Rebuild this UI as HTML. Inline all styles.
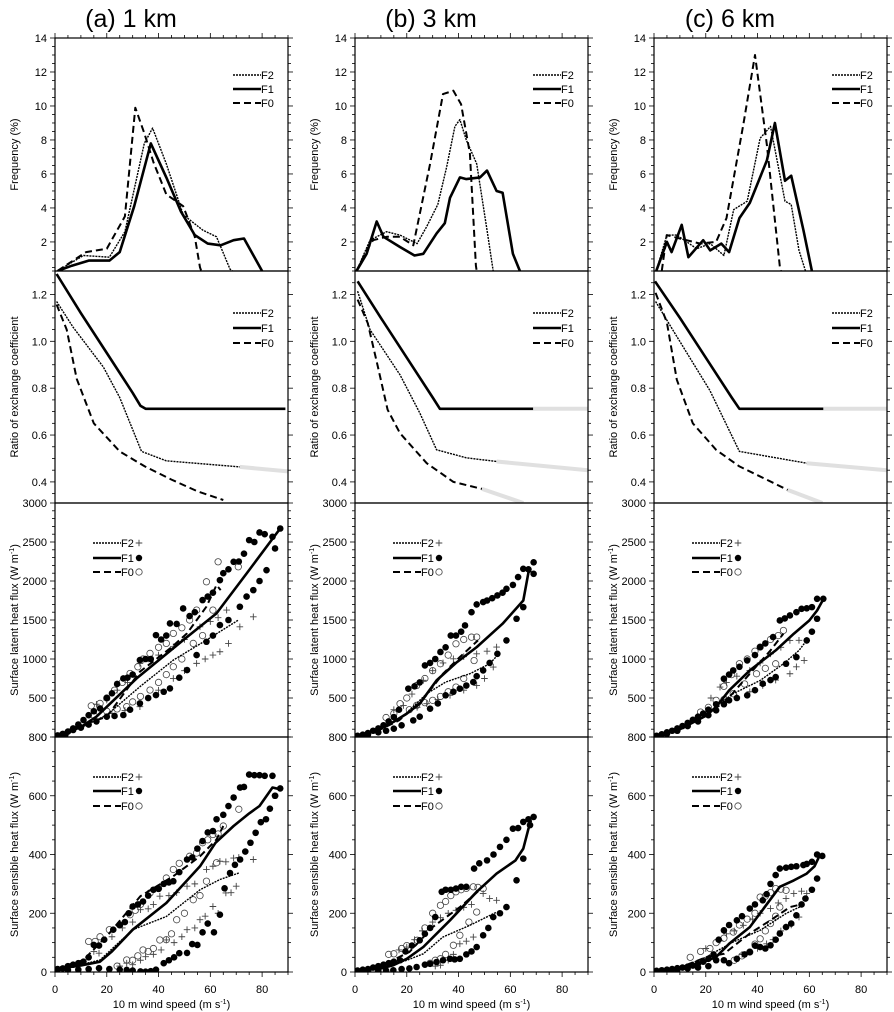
<!DOCTYPE html>
<html><head><meta charset="utf-8"><style>
body{margin:0;background:#fff;}
svg{display:block;font-family:"Liberation Sans",sans-serif;}
</style></head><body>
<svg id="fig" width="894" height="1012" viewBox="0 0 894 1012" xmlns="http://www.w3.org/2000/svg"></svg>
<script>
// ---------- data ----------
const colTitles = ["(a) 1 km","(b) 3 km","(c) 6 km"];
const freqTicks = [2,4,6,8,10,12,14];
const ratioTicks = [0.4,0.6,0.8,1.0,1.2];
const latTicks = [500,1000,1500,2000,2500,3000];
const senTicks = [0,200,400,600,800];
const xTicks = [0,20,40,60,80];

const freqA_F1=[[1.2,.3],[6.5,.6],[13,.9],[21,.9],[25,1.4],[30.6,4.1],[37,7.8],[43,5.8],[48.6,3.8],[54,2.4],[59,1.9],[64,1.8],[69,2.1],[73,2.2],[80,.29]];
const freqA_F2=[[1,.3],[11,1.2],[21,1.1],[27,2.6],[34.5,7.8],[37.7,8.7],[43,6.6],[49.5,3.6],[57,2.7],[62.4,2.3],[67.6,.4],[68.5,.29]];
const freqA_F0=[[1,.3],[12,1.4],[20,1.6],[27,3.5],[31,9.9],[34.5,8.4],[38,6.7],[43,4.8],[49.5,4.1],[54,2.3],[56,.5],[56.5,.29]];
const freqB_F1=[[0.6,.3],[4.5,1.3],[8.4,3.2],[11,2.3],[17.4,1.7],[23,1.2],[26.4,1.3],[31.5,2.5],[34.7,3.1],[36.7,4.6],[40.5,5.8],[43,5.7],[48.3,5.8],[51,6.2],[54.7,5],[57,4.9],[61,1.3],[63.7,.29]];
const freqB_F2=[[0.6,.3],[5.8,2.1],[12.2,2.6],[17.4,2.4],[24,1.9],[27.7,2.9],[32,4.2],[35.4,6.4],[38.6,8.8],[40.5,9.2],[43,8],[47,6.6],[51,2.7],[53.4,.29]];
const freqB_F0=[[0.6,.3],[4.5,1.5],[7,2.1],[12.2,2.3],[17.4,2.3],[22.5,1.8],[29,6.6],[34,10.7],[38,10.9],[41,10.1],[44.4,7.2],[46.7,.6],[47,.29]];
const freqC_F1=[[0.9,.3],[5,2],[6.8,1.4],[10.7,3],[13.3,1.1],[19,2.1],[21.7,1.5],[26,1.9],[29,1.4],[33,3.4],[37,4.3],[43.6,6.8],[46.7,9],[50.6,5.6],[53,5.9],[57.7,2.7],[61,.29]];
const freqC_F2=[[0.9,.3],[5,2.4],[8.8,2.4],[16.5,1.6],[21.7,1.9],[27,1.2],[30.8,3.9],[36,4.4],[41,8.1],[45,8.8],[50.6,4.4],[53,4.2],[56,1.5],[58.5,.29]];
const freqC_F0=[[3,.3],[4.9,2.4],[10,2.2],[17.8,1.9],[24,2],[28,3.4],[34.5,8.9],[39,13],[43.6,7.7],[48.7,.4],[49,.29]];

const ratA_F1=[[0.6,1.287],[10,1.12],[20,0.95],[30,0.78],[33,0.725],[35,0.712],[89,0.712]];
const ratA_F2=[[0.6,1.17],[7,1.06],[18.7,0.89],[25,0.76],[33.4,0.53],[43,0.49],[71.4,0.464]];
const ratA_F0=[[0.6,1.157],[4.5,1.05],[8.4,0.84],[15,0.65],[25,0.53],[34.7,0.466],[45,0.41],[55,0.36],[65,0.323]];
const ratA_F2gray=[[71.4,0.464],[90,0.445]];
const ratB_F1=[[1,1.256],[10,1.1],[20,0.93],[30,0.76],[32.8,0.712],[68.8,0.712]];
const ratB_F2=[[1,1.214],[5.8,1.05],[17.4,0.857],[25,0.695],[31.5,0.537],[43,0.503],[54.7,0.487]];
const ratB_F0=[[1,1.178],[4.9,1.078],[8.8,0.893],[12.6,0.708],[17.4,0.608],[27.7,0.48],[38,0.40],[49,0.37]];
const ratB_F1gray=[[68.8,0.712],[90,0.712]];
const ratB_F2gray=[[54.7,0.487],[90,0.45]];
const ratB_F0gray=[[49,0.37],[65,0.31]];
const ratC_F1=[[0.4,1.256],[10,1.1],[20,0.93],[30,0.76],[33,0.712],[65.4,0.712]];
const ratC_F2=[[0.6,1.17],[7.2,1.05],[21.6,0.79],[33,0.53],[59,0.48]];
const ratC_F0=[[0.6,1.207],[5,1.08],[8.8,0.836],[15,0.65],[24,0.537],[33,0.466],[43.5,0.41],[51.6,0.366]];
const ratC_F1gray=[[65.4,0.712],[90,0.712]];
const ratC_F2gray=[[59,0.48],[90,0.45]];
const ratC_F0gray=[[51.6,0.366],[65,0.31]];

const latA_F1=[[0,20],[5,60],[10,130],[16,260],[31.5,751],[49.5,1242],[62.4,1584],[74,2096],[87,2673]];
const latA_F1up=[[1,20],[3,40],[5,70],[7,110],[9,160],[11,218],[13,280],[15,330],[17.4,367],[20,500],[22,560],[24,680],[26.4,751],[28,760],[30,800],[32.8,986],[35,1000],[37,1000],[39,1306],[41,1250],[43,1300],[44.4,1456],[47,1450],[49.5,1648],[52,1550],[54,1600],[57,1755],[59,1800],[61,1850],[63.7,2011],[65,2100],[67,2150],[69,2246],[71,2250],[73,2350],[75,2524],[77,2500],[79,2622],[81,2600],[84,2566],[87,2673]];
const latA_F1lo=[[1,10],[4,30],[7,90],[10,120],[13,160],[16,200],[20,260],[23,270],[26.4,282],[29,350],[32.8,431],[36,500],[39,538],[42,580],[44.4,623],[48,760],[51,858],[54.7,1050],[58.5,1221],[61,1300],[63.7,1435],[67,1500],[71.4,1670],[74,1800],[76.6,1883],[79,2000],[81.7,2139],[85,2417]];
const latA_F0=[[0,20],[10,150],[20,260],[32.8,837],[45,1150],[51,1328],[58.5,1670],[62.4,1947],[64,1883]];
const latA_F0up=[[14,400],[17.4,431],[20,500],[23,600],[26,700],[29,815],[32,900],[34,1000],[36.7,1072],[40,1150],[43,1200],[45.7,1328],[49,1400],[52,1500],[54.7,1627],[58.5,1990],[63,2246],[70.8,2182]];
const latA_F0lo=[[15,280],[20,330],[24,360],[27.7,389],[30,450],[33,520],[36.7,602],[40,700],[43,800],[45.7,901],[49,1000],[53.4,1200],[57,1300],[61,1627]];
const latA_F2=[[0,20],[10,120],[20,282],[32.8,645],[45.7,986],[58.5,1242],[70.8,1499]];
const latA_F2up=[[16,420],[20,474],[24,600],[28,700],[32.8,944],[36,1000],[40,1050],[45.7,1157],[50,1250],[56,1413],[60,1480],[63,1530],[66.3,1627],[71.4,1670],[76.6,1541]];
const latA_F2lo=[[22,300],[27,340],[32.8,389],[36,500],[40,600],[45.7,751],[50,850],[54.7,944],[58,1000],[61,1050],[63.7,1093],[67,1200],[71.4,1413]];

const latB_F1=[[0,10],[5,50],[10,110],[14.8,192],[20,300],[25,427],[31.5,726],[39,950],[47,1153],[57,1452],[65,1750],[67,2113],[68,2135]];
const latB_F1up=[[1,15],[3,30],[5,50],[7,80],[9,110],[11,150],[13,200],[15,256],[17,350],[20.6,620],[23,650],[25,700],[27,918],[29,950],[31,1000],[33,1090],[35,1150],[37,1300],[39,1300],[41,1350],[42.5,1430],[45,1600],[47,1700],[49.5,1730],[51,1750],[53,1780],[55,1815],[57,1850],[58.5,1900],[61,1950],[63,2050],[65,2156],[67,2150],[69,2240]];
const latB_F1lo=[[1,10],[5,30],[9,60],[12,80],[15,107],[18,150],[22.5,213],[25,260],[29,363],[32,430],[35,534],[38,580],[40.5,620],[43,660],[45.7,704],[47,780],[49.5,854],[52,950],[55,1067],[58.5,1238],[62.4,1516],[65,1665],[69,2092]];
const latB_F0=[[0,10],[10,100],[17,213],[26,470],[34,811],[40.5,1025],[47.5,1238]];
const latB_F0up=[[12,250],[15,300],[17.4,427],[20,500],[23.8,660],[27,750],[30,850],[33,939],[36,1050],[39,1195],[42,1250],[45,1280],[47,1281]];
const latB_F0lo=[[21,350],[23.8,405],[27,440],[30,470],[33,520],[36,580],[39,640],[42,750],[46,980]];
const latB_F2=[[0,10],[10,100],[18,250],[27.7,555],[35,704],[44.4,811],[52,939],[55,1046]];
const latB_F2up=[[15,350],[18.7,405],[22,550],[26.4,726],[30,850],[34,950],[38,1003],[42,1030],[47,1067],[51,1100],[54.7,1153]];
const latB_F2lo=[[24,380],[27.7,427],[32,480],[36.7,534],[42,600],[47,661],[50,750],[53.4,896]];

const latC_F1=[[0,10],[10,100],[20,270],[24,384],[29,598],[37,854],[47,1110],[54,1324],[60,1494],[63,1622],[65.5,1772]];
const latC_F1up=[[1,15],[3,35],[5,60],[7,80],[9,110],[11,140],[13,180],[15,220],[17,260],[19,300],[21,350],[24,420],[27,747],[29,800],[30.6,854],[33,900],[36,982],[39,1050],[41,1153],[43,1200],[46,1281],[48.6,1494],[50.5,1520],[52.5,1558],[55,1600],[57,1643],[59,1650],[61,1665],[63,1772],[65.4,1772]];
const latC_F1lo=[[1,10],[5,40],[9,80],[13,140],[17,200],[21,280],[24,342],[27,420],[29,470],[32,500],[36,534],[39,600],[42,683],[45,730],[47,768],[51,939],[55,1024],[59,1238],[61,1350],[63,1516]];
const latC_F0=[[0,10],[10,100],[20,280],[28,470],[37,811],[45,1110],[50,1324]];
const latC_F0up=[[18,320],[21,380],[24,470],[27,650],[30,800],[33,940],[36,1000],[39,1100],[41,1153],[45,1250],[48,1300],[50,1366]];
const latC_F0lo=[[27,480],[30.6,555],[35,680],[39.6,811],[43,880],[47,939]];
const latC_F2=[[0,10],[10,100],[20,280],[25,420],[30.6,555],[41,725],[50,939],[56,1110],[59,1238]];
const latC_F2up=[[22,500],[25.5,640],[28,700],[32,780],[37,854],[41,950],[45,1067],[49,1150],[52.5,1238],[56,1240],[59,1238]];
const latC_F2lo=[[28,480],[32,512],[37,580],[42,661],[47,730],[52.5,811],[55,900],[58,982]];

const senA_F1=[[0,10],[10,22],[17.4,35],[22,70],[30,144],[43,235],[56,360],[62,440],[69,497],[75,540],[79,565],[84,628],[87,622]];
const senA_F1up=[[1,10],[3,12],[5,20],[7,25],[9,30],[11,35],[13,50],[15,92],[17,90],[19,110],[22.5,144],[25,160],[27,170],[28.5,200],[30,223],[32,230],[34,240],[36,260],[38,280],[40,283],[42,300],[44,305],[45.7,309],[48,340],[51,383],[53,390],[55,420],[57,446],[59,475],[61,480],[62.4,520],[65,535],[67,565],[69,594],[71.5,628],[73,630],[75,672],[77,670],[79,670],[81,668],[84,668],[85,600],[87,625]];
const senA_F1lo=[[1,7],[5,7],[9,8],[13,10],[17,13],[21,10],[25,8],[27.7,7],[30,5],[33,2],[35,1],[37,3],[39,8],[42,30],[44,40],[46,50],[48,64],[51,65],[53,95],[55,92],[57,135],[59,165],[61.4,135],[63.7,195],[65.5,285],[67.6,337],[69.5,365],[71.5,383],[73.5,410],[75.5,440],[77.5,474],[79.5,510],[81.5,520],[83,556],[85,600]];
const senA_F0=[[0,10],[11,41],[21,132],[33,258],[45.7,326],[56,394],[62.4,451],[65,497]];
const senA_F0up=[[13,104],[15.5,104],[17.4,120],[21,144],[25,160],[29,195],[31,210],[33,230],[36.7,269],[40,285],[43,320],[45.7,349],[48,370],[52,394],[54.7,405],[57,440],[59,450],[61,468],[63,470],[65,497],[71,554]];
const senA_F0lo=[[24,20],[27.7,41],[30,40],[32,55],[34,75],[36,70],[38,80],[40.5,109],[43,110],[45,130],[47,178],[50,200],[53.4,246],[56,260],[58.5,309],[62.4,372]];
const senA_F2=[[0,10],[10,25],[17.4,41],[30,144],[43,189],[56,280],[63.7,315],[71,337]];
const senA_F2up=[[15,70],[17,64],[22,120],[26,150],[30,170],[33,212],[36,215],[38,230],[40.5,258],[44,260],[47,270],[51,292],[54,300],[58.5,349],[61,360],[63.7,377],[66,375],[69,388],[71,390],[76.6,383]];
const senA_F2lo=[[25,20],[27.7,30],[30,25],[33,40],[35,52],[38,60],[41,75],[43,109],[46,100],[49,120],[51,144],[54,150],[56,178],[58,190],[61,223],[63,200],[66,269],[68,270],[70,292]];

const senB_F1=[[0,3],[10,12],[14.8,23],[20,45],[26.4,85],[36.7,176],[47,273],[54.7,335],[62,380],[65,420],[67,488],[68,517]];
const senB_F1up=[[1,5],[3,8],[5,10],[7,15],[9,20],[11,25],[13,30],[15,35],[17.4,40],[19.5,70],[22,90],[25,108],[27,130],[29,150],[31,187],[33.5,273],[35,280],[37,280],[39,284],[41,290],[43,290],[46,352],[48,370],[51,380],[53.5,400],[56,426],[58.5,450],[61,488],[63,490],[65,511],[67,520],[69,528]];
const senB_F1lo=[[1,3],[5,3],[9,4],[12,5],[14.8,6],[18,10],[21,12],[23.8,17],[27,25],[29,28],[31.5,34],[34,40],[36.7,45],[38.5,43],[40.5,45],[43,60],[45,70],[47,85],[49.5,125],[51.5,150],[53.4,187],[56,200],[58.5,221],[62.4,312],[65,386],[67.6,500]];
const senB_F0=[[0,3],[10,20],[21,68],[30,153],[40.5,221],[48,278]];
const senB_F0up=[[13,60],[15,62],[18,80],[20,90],[24,108],[27,150],[30,200],[33,227],[35,240],[37,260],[39,273],[41,280],[43,285],[45.7,290],[47.5,288],[49.5,284]];
const senB_F0lo=[[29,30],[31,40],[33,45],[35,60],[38,91],[40.5,125],[44,170],[47,204]];
const senB_F2=[[0,3],[10,15],[20,40],[26.4,62],[34,119],[44.4,159],[54.7,204]];
const senB_F2up=[[17,75],[20,85],[23,110],[26,140],[30,170],[33,185],[36,200],[39,210],[42,220],[45,230],[49.5,267],[52,250],[54.7,244]];
const senB_F2lo=[[31,20],[33,23],[36,40],[38,60],[40.5,96],[43,105],[45.7,119]];

const senC_F1=[[0,3],[10,12],[18,30],[24,51],[29,96],[37,153],[48.6,290],[54,312],[59,335],[62,360],[64,397]];
const senC_F1up=[[1,4],[3,6],[5,8],[7,10],[9,13],[11,15],[13,18],[15,22],[17,28],[19,35],[21,45],[23,60],[25,110],[27,142],[29,160],[32,176],[34,190],[37,216],[39,230],[42,244],[43.5,265],[45,300],[47,330],[48.6,352],[51,355],[53,358],[55,360],[57.7,364],[59,368],[61,375],[63,400],[65,395]];
const senC_F1lo=[[1,3],[5,5],[9,8],[13,12],[17,15],[21,20],[24,40],[27,40],[29,30],[32,45],[35,60],[37,68],[39,90],[41,85],[43,80],[45,91],[47,110],[48.6,131],[51,153],[53,165],[55,193],[57,230],[58.5,250],[61,280],[63,318]];
const senC_F0=[[0,3],[10,15],[20,50],[27,62],[37,131],[45,176],[52.5,221],[58,233]];
const senC_F0up=[[14,50],[18,70],[21.6,80],[24,100],[27,115],[30.6,136],[33,160],[36,180],[39,200],[41,255],[43,258],[45,270],[47,284],[49,282],[51,278]];
const senC_F0lo=[[31,40],[34,55],[37,68],[39,95],[41,113],[43,140],[45,165],[47,190],[48.6,221]];
const senC_F2=[[0,3],[10,15],[20,50],[25,75],[30.6,102],[41,142],[51,199],[57.6,227]];
const senC_F2up=[[20,80],[25.5,108],[28,130],[31,140],[34.5,159],[38,180],[41,200],[45,216],[48,235],[51,250],[54,267],[57,275],[59,267]];
const senC_F2lo=[[34,60],[37,68],[40,80],[43.5,96],[46,110],[49,140],[51,153],[53,160],[56,187]];

// ---------- drawing ----------
const NS="http://www.w3.org/2000/svg";
const svg=document.getElementById('fig');
function mk(tag,attrs,parent){const e=document.createElementNS(NS,tag);for(const k in attrs)e.setAttribute(k,attrs[k]);(parent||svg).appendChild(e);return e;}
const lefts=[55,355,654];
const W=233;
const rows=[
 {top:38,bot:271,min:0.29,max:14,ticks:freqTicks,minor:0.5,title:"Frequency (%)",name:"frequency",fmt:v=>String(v)},
 {top:271,bot:503,min:0.31,max:1.30,ticks:ratioTicks,minor:0.05,title:"Ratio of exchange coefficient",name:"ratio",fmt:v=>v.toFixed(1)},
 {top:503,bot:737,min:0,max:3000,ticks:latTicks,minor:100,title:"Surface latent heat flux (W m",name:"latent",fmt:v=>String(v)},
 {top:737,bot:972,min:0,max:800,ticks:senTicks,minor:50,title:"Surface sensible heat flux (W m",name:"sensible",fmt:v=>String(v)}
];
const data=[
 [{F1:freqA_F1,F2:freqA_F2,F0:freqA_F0},{F1:ratA_F1,F2:ratA_F2,F0:ratA_F0,g:[ratA_F2gray]},
  {F1:latA_F1,F2:latA_F2,F0:latA_F0,F1u:latA_F1up,F1l:latA_F1lo,F0u:latA_F0up,F0l:latA_F0lo,F2u:latA_F2up,F2l:latA_F2lo},
  {F1:senA_F1,F2:senA_F2,F0:senA_F0,F1u:senA_F1up,F1l:senA_F1lo,F0u:senA_F0up,F0l:senA_F0lo,F2u:senA_F2up,F2l:senA_F2lo}],
 [{F1:freqB_F1,F2:freqB_F2,F0:freqB_F0},{F1:ratB_F1,F2:ratB_F2,F0:ratB_F0,g:[ratB_F1gray,ratB_F2gray,ratB_F0gray]},
  {F1:latB_F1,F2:latB_F2,F0:latB_F0,F1u:latB_F1up,F1l:latB_F1lo,F0u:latB_F0up,F0l:latB_F0lo,F2u:latB_F2up,F2l:latB_F2lo},
  {F1:senB_F1,F2:senB_F2,F0:senB_F0,F1u:senB_F1up,F1l:senB_F1lo,F0u:senB_F0up,F0l:senB_F0lo,F2u:senB_F2up,F2l:senB_F2lo}],
 [{F1:freqC_F1,F2:freqC_F2,F0:freqC_F0},{F1:ratC_F1,F2:ratC_F2,F0:ratC_F0,g:[ratC_F1gray,ratC_F2gray,ratC_F0gray]},
  {F1:latC_F1,F2:latC_F2,F0:latC_F0,F1u:latC_F1up,F1l:latC_F1lo,F0u:latC_F0up,F0l:latC_F0lo,F2u:latC_F2up,F2l:latC_F2lo},
  {F1:senC_F1,F2:senC_F2,F0:senC_F0,F1u:senC_F1up,F1l:senC_F1lo,F0u:senC_F0up,F0l:senC_F0lo,F2u:senC_F2up,F2l:senC_F2lo}]
];
const styles={F1:{w:2.6,d:"none"},F2:{w:1.4,d:"2 1"},F0:{w:2,d:"7 4"}};
const defs=mk('defs',{});
const letters=['a','b','c'];

lefts.forEach((L,ci)=>{
  const xs=v=>L+v*W/90;
  const t=mk('text',{x:L+76,y:27,'font-size':25,'text-anchor':'middle'});
  
  
  t.textContent=colTitles[ci];
  rows.forEach((r,ri)=>{
    const ys=v=>r.bot-(v-r.min)/(r.max-r.min)*(r.bot-r.top);
    const g=mk('g',{});
    
    
    const cid='clip'+ci+'_'+ri;
    const cp=mk('clipPath',{id:cid},defs);
    mk('rect',{x:L,y:r.top,width:W,height:r.bot-r.top},cp);
    // y ticks
    const start=Math.ceil(r.min/r.minor-1e-6);
    for(let k=start;k*r.minor<=r.max+1e-6;k++){
      const v=k*r.minor;const y=ys(v);
      const major=r.ticks.some(tv=>Math.abs(tv-v)<1e-6);
      const len=major?5:3;
      mk('line',{x1:L-len,x2:L,y1:y,y2:y,stroke:'#000','stroke-width':0.8},g);
      mk('line',{x1:L+W,x2:L+W+len,y1:y,y2:y,stroke:'#000','stroke-width':0.8},g);
    }
    r.ticks.forEach(tv=>{
      const tl=mk('text',{x:L-8,y:ys(tv)+4,'font-size':11,'text-anchor':'end'},g);
      
      
      tl.textContent=r.fmt(tv);
    });
    if(ri===2){const tl=mk('text',{x:L-8,y:r.bot+4,'font-size':11,'text-anchor':'end'},g);tl.textContent='0';}
    // y title
    const cy=(r.top+r.bot)/2;
    const yt=mk('text',{x:L-37,y:cy,'font-size':11,'text-anchor':'middle',transform:`rotate(-90 ${L-37} ${cy})`},g);
    
    
    yt.textContent=r.title;
    if(ri>=2){const sp=mk('tspan',{'font-size':7,dy:-4},yt);sp.textContent='-1';const sp2=mk('tspan',{dy:4},yt);sp2.textContent=')';}
    // x ticks on top of first and bottom of last
    if(ri===0||ri===3){
      for(let v=0;v<=90;v+=5){
        const len=(v%20===0)?5:3;const x=xs(v);
        if(ri===0)mk('line',{x1:x,x2:x,y1:r.top-len,y2:r.top,stroke:'#000','stroke-width':0.8},g);
        else mk('line',{x1:x,x2:x,y1:r.bot,y2:r.bot+len,stroke:'#000','stroke-width':0.8},g);
      }
    }
    if(ri===3){
      xTicks.forEach(v=>{const tl=mk('text',{x:xs(v),y:993,'font-size':11,'text-anchor':'middle'},g);
        tl.textContent=String(v);});
      const xt=mk('text',{x:L+W/2,y:1008,'font-size':11,'text-anchor':'middle'},g);
      
      xt.textContent='10 m wind speed (m s';
      const sp=mk('tspan',{'font-size':7,dy:-4},xt);sp.textContent='-1';const sp2=mk('tspan',{dy:4},xt);sp2.textContent=')';
    }
    const d=data[ci][ri];
    const pg=mk('g',{'clip-path':`url(#${cid})`},g);
    const path=(arr)=>arr.map((p,i)=>(i?'L':'M')+xs(p[0]).toFixed(1)+','+ys(p[1]).toFixed(1)).join('');
    if(d.g){d.g.forEach(a=>{const e=mk('path',{d:path(a),fill:'none',stroke:'#e0e0e0','stroke-width':4},pg);
      });}
    // markers
    const mark=(arr,type)=>arr.forEach(p=>{
      const x=xs(p[0]),y=ys(p[1]);let e;
      if(type==='F1')e=mk('circle',{cx:x,cy:y,r:3.3,fill:'#000'},pg);
      else if(type==='F0')e=mk('circle',{cx:x,cy:y,r:3.2,fill:'none',stroke:'#444','stroke-width':0.8},pg);
      else e=mk('path',{d:`M${x-3.3},${y}H${x+3.3}M${x},${y-3.3}V${y+3.3}`,stroke:'#444','stroke-width':0.9},pg);
      
      
    });
    if(d.F1u){mark(d.F2u,'F2');mark(d.F2l,'F2');mark(d.F0u,'F0');mark(d.F0l,'F0');mark(d.F1u,'F1');mark(d.F1l,'F1');}
    ['F0','F2','F1'].forEach(s=>{
      const e=mk('path',{d:path(d[s]),fill:'none',stroke:'#000','stroke-width':styles[s].w,'stroke-dasharray':styles[s].d,'stroke-linejoin':'round'},pg);
      
      
    });
    // frame
    const fr=mk('rect',{x:L,y:r.top,width:W,height:r.bot-r.top,fill:'none',stroke:'#000','stroke-width':1.2},g);
    
    // legend
    const lg=mk('g',{},g);
    
    
    let lx0,lx1,ly;
    if(ri<2){lx0=L+178;lx1=L+206;ly=ri===0?[75,89,103]:[313,328,343];}
    else{lx0=L+38;lx1=L+66;ly=ri===2?[543,558,572]:[777,791,806];}
    ['F2','F1','F0'].forEach((s,i)=>{
      const e=mk('line',{x1:lx0,x2:lx1,y1:ly[i],y2:ly[i],stroke:'#000','stroke-width':styles[s].w,'stroke-dasharray':styles[s].d},lg);
      
      
      const tx=mk('text',{x:lx1,y:ly[i]+4,'font-size':11},lg);
      
      
      tx.textContent=s;
      if(ri>=2){
        const mx=lx1+18,my=ly[i];let m;
        if(s==='F1')m=mk('circle',{cx:mx,cy:my,r:3.2,fill:'#000'},lg);
        else if(s==='F0')m=mk('circle',{cx:mx,cy:my,r:3.2,fill:'none',stroke:'#444','stroke-width':0.8},lg);
        else m=mk('path',{d:`M${mx-3.3},${my}H${mx+3.3}M${mx},${my-3.3}V${my+3.3}`,stroke:'#444','stroke-width':0.9},lg);
        
        
      }
    });
  });
});
</script>
</body></html>
